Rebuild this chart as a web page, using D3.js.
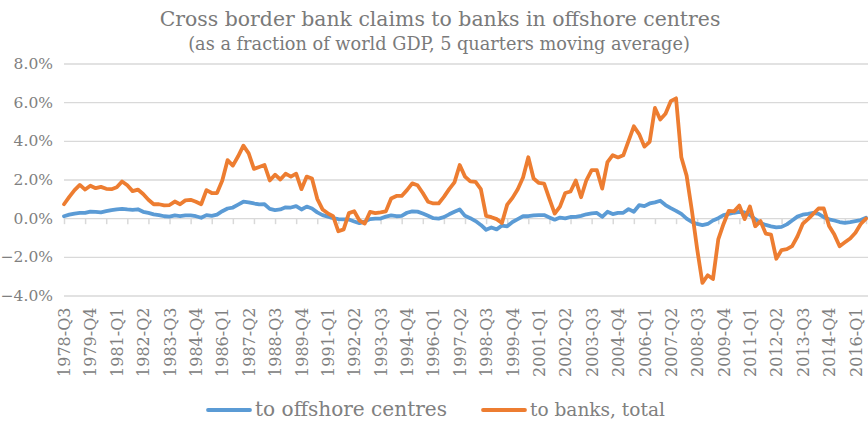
<!DOCTYPE html>
<html>
<head>
<meta charset="utf-8">
<script src="https://cdn.jsdelivr.net/npm/d3@7/dist/d3.min.js"></script>
<style>
  html, body { margin: 0; padding: 0; background: #ffffff; }
  svg { display: block; }
  text { font-family: "DejaVu Serif", "Liberation Serif", serif; fill: #808080; }
</style>
</head>
<body>
<svg id="chart" width="868" height="431"></svg>
<script>
// Cross border bank claims, % of world GDP (5-quarter moving average), from 1978-Q3
const firstYear = 1978;
const firstQuarter = 3;

const toOffshore = [
  0.10, 0.18, 0.24, 0.27, 0.27, 0.34, 0.33, 0.30, 0.36, 0.42,
  0.46, 0.48, 0.45, 0.43, 0.46, 0.33, 0.27, 0.20, 0.16, 0.10,
  0.08, 0.14, 0.10, 0.14, 0.14, 0.10, 0.02, 0.16, 0.12, 0.18,
  0.36, 0.50, 0.55, 0.70, 0.85, 0.82, 0.76, 0.71, 0.72, 0.48,
  0.42, 0.45, 0.56, 0.55, 0.62, 0.45, 0.60, 0.50, 0.30, 0.16,
  0.08, 0.00, -0.05, -0.06, -0.07, -0.17, -0.26, -0.18, -0.05, -0.02,
  -0.02, 0.08, 0.14, 0.10, 0.12, 0.28, 0.35, 0.34, 0.24, 0.12,
  0.00, -0.02, 0.05, 0.20, 0.33, 0.45, 0.12, 0.00, -0.15, -0.35,
  -0.60, -0.48, -0.58, -0.38, -0.42, -0.20, -0.05, 0.10, 0.10, 0.14,
  0.16, 0.16, 0.04, -0.08, 0.03, -0.01, 0.06, 0.07, 0.12, 0.20,
  0.25, 0.27, 0.07, 0.33, 0.21, 0.27, 0.28, 0.47, 0.33, 0.67,
  0.62, 0.76, 0.82, 0.90, 0.68, 0.52, 0.38, 0.22, -0.02, -0.20,
  -0.30, -0.36, -0.30, -0.12, 0.00, 0.16, 0.22, 0.28, 0.32, 0.30,
  0.16, -0.05, -0.25, -0.35, -0.42, -0.48, -0.45, -0.32, -0.12, 0.08,
  0.18, 0.22, 0.27, 0.22, 0.05, -0.06, -0.12, -0.20, -0.24, -0.20,
  -0.15, -0.10, 0.02
];

const toBanksTotal = [
  0.72, 1.10, 1.45, 1.72, 1.48, 1.68, 1.55, 1.62, 1.52, 1.50,
  1.60, 1.90, 1.70, 1.40, 1.48, 1.25, 0.95, 0.72, 0.72, 0.66,
  0.68, 0.86, 0.72, 0.92, 0.95, 0.85, 0.72, 1.45, 1.30, 1.30,
  1.95, 3.00, 2.72, 3.20, 3.75, 3.35, 2.55, 2.65, 2.75, 1.95,
  2.25, 2.00, 2.30, 2.15, 2.30, 1.50, 2.15, 2.05, 1.00, 0.45,
  0.25, 0.10, -0.68, -0.58, 0.26, 0.36, -0.12, -0.28, 0.32, 0.26,
  0.30, 0.35, 1.02, 1.15, 1.15, 1.45, 1.80, 1.70, 1.30, 0.85,
  0.76, 0.76, 1.10, 1.50, 1.85, 2.75, 2.15, 1.90, 1.88, 1.50,
  0.12, 0.05, -0.05, -0.25, 0.70, 1.05, 1.50, 2.10, 3.15, 2.05,
  1.82, 1.79, 1.00, 0.24, 0.60, 1.30, 1.38, 1.95, 1.08, 1.96,
  2.48, 2.48, 1.53, 2.90, 3.26, 3.14, 3.25, 4.00, 4.75, 4.35,
  3.70, 3.95, 5.70, 5.10, 5.40, 6.05, 6.20, 3.15, 2.20, 0.40,
  -1.60, -3.35, -2.95, -3.15, -1.10, -0.30, 0.38, 0.35, 0.65, -0.05,
  0.60, -0.42, -0.15, -0.80, -0.85, -2.10, -1.65, -1.60, -1.45, -0.95,
  -0.30, -0.05, 0.22, 0.50, 0.50, -0.40, -0.85, -1.45, -1.25, -1.05,
  -0.75, -0.30, -0.02
];

const yTicks = [-4, -2, 0, 2, 4, 6, 8];
const labelEvery = 5;   // one category label every 5 quarters
const tickEvery = 4;    // one tick mark every 4 quarters

const seriesNames = ["to offshore centres", "to banks, total"];
const seriesColors = ["#5b9bd5", "#ed7d31"];

const titleText = "Cross border bank claims to banks in offshore centres";
const subtitleText = "(as a fraction of world GDP, 5 quarters moving average)";

// Quarter category names, e.g. "1978-Q3"
const categories = toBanksTotal.map((_, i) => {
  const q = (firstQuarter - 1) + i;
  return (firstYear + Math.floor(q / 4)) + "-Q" + ((q % 4) + 1);
});

const svg = d3.select("#chart");
const plot = { left: 64, right: 866, gridRight: 868, top: 63.5, bottom: 295.5 };

const x = d3.scalePoint().domain(categories).range([plot.left, plot.right]);
const y = d3.scaleLinear().domain([-4, 8]).range([plot.bottom, plot.top]);

// Fit a text element's font size so it spans a given width
function fitText(sel, width, base) {
  sel.style("font-size", base + "px");
  const w = sel.node().getComputedTextLength();
  sel.style("font-size", (base * width / w).toFixed(2) + "px");
}

// Titles
const t1 = svg.append("text").attr("x", 440).attr("y", 26)
  .attr("text-anchor", "middle").style("fill", "#7a7a7a").text(titleText);
fitText(t1, 561, 20);
const t2 = svg.append("text").attr("x", 439).attr("y", 50)
  .attr("text-anchor", "middle").style("fill", "#7a7a7a").text(subtitleText);
fitText(t2, 502, 16);

// Value axis with horizontal gridlines
const yAxis = svg.append("g")
  .attr("transform", `translate(${plot.left},0)`)
  .call(d3.axisLeft(y)
    .tickValues(yTicks)
    .tickSize(-(plot.gridRight - plot.left))
    .tickPadding(11)
    .tickFormat(d => d3.format(".1f")(d) + "%"));
yAxis.select(".domain").remove();
yAxis.selectAll(".tick line").attr("stroke", "#d9d9d9").attr("stroke-width", 1.3);
yAxis.selectAll(".tick text")
  .style("font-size", "15.5px").style("fill", "#808080")
  .attr("font-family", null);

// Category axis: tick marks every 4 quarters
const xTickAxis = svg.append("g")
  .attr("transform", `translate(0,${y(0)})`)
  .call(d3.axisBottom(x)
    .tickValues(categories.filter((_, i) => i % tickEvery === 0))
    .tickSize(6)
    .tickFormat(""));
xTickAxis.select(".domain").remove();
xTickAxis.selectAll(".tick line").attr("stroke", "#d9d9d9").attr("stroke-width", 1.5);

// Category labels every 5 quarters, rotated, hanging below the plot
const xLabelAxis = svg.append("g")
  .attr("transform", `translate(0,${plot.bottom + 12})`)
  .call(d3.axisBottom(x)
    .tickValues(categories.filter((_, i) => i % labelEvery === 0))
    .tickSize(0)
    .tickPadding(0));
xLabelAxis.select(".domain").remove();
xLabelAxis.selectAll(".tick text")
  .attr("font-family", null)
  .style("font-size", "16px").style("fill", "#808080")
  .attr("text-anchor", "end")
  .attr("y", 0).attr("x", 0).attr("dy", "0.35em")
  .attr("transform", "rotate(-90)");

// Series lines
const line = d3.line()
  .x((d, i) => x(categories[i]))
  .y(d => y(d));

[toOffshore, toBanksTotal].forEach((values, k) => {
  svg.append("path")
    .datum(values)
    .attr("fill", "none")
    .attr("stroke", seriesColors[k])
    .attr("stroke-width", 3.8)
    .attr("stroke-linejoin", "round")
    .attr("stroke-linecap", "round")
    .attr("d", line);
});

// Legend
const legendItems = [
  { x0: 208, x1: 250, tx: 255, w: 192 },
  { x0: 483, x1: 525, tx: 530, w: 135 }
];
legendItems.forEach((p, k) => {
  svg.append("line")
    .attr("x1", p.x0).attr("x2", p.x1)
    .attr("y1", 410).attr("y2", 410)
    .attr("stroke", seriesColors[k])
    .attr("stroke-width", 3.8)
    .attr("stroke-linecap", "round");
  const t = svg.append("text")
    .attr("x", p.tx).attr("y", 416)
    .style("fill", "#808080")
    .text(seriesNames[k]);
  fitText(t, p.w, 18);
});
</script>
</body>
</html>
